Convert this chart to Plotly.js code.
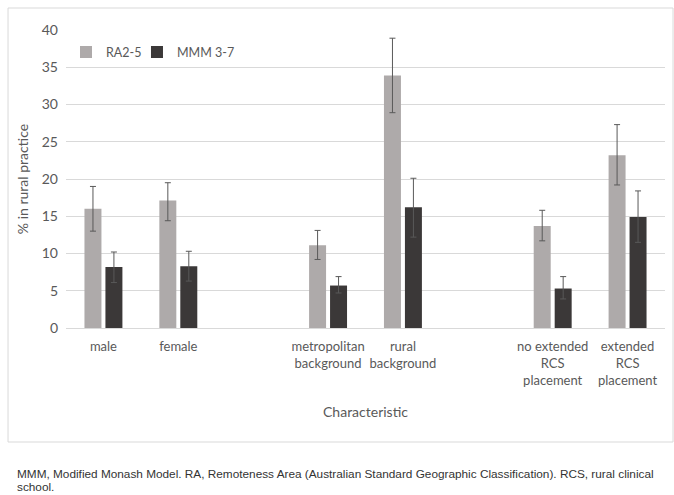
<!DOCTYPE html>
<html>
<head>
<meta charset="utf-8">
<script src="https://cdn.plot.ly/plotly-3.0.1.min.js"></script>
<style>html,body{margin:0;padding:0;background:#fff;}#chart{width:674px;height:495px;}</style>
</head>
<body>
<div id="chart"></div>
<script>
var categories = ["male", "female", " ", "metropolitan<br>background", "rural<br>background", "  ", "no extended<br>RCS<br>placement", "extended<br>RCS<br>placement"];
var raValues   = [16.0, 17.1, null, 11.1, 33.9, null, 13.7, 23.2];
var raUpper    = [19.0, 19.5, null, 13.1, 38.9, null, 15.8, 27.3];
var raLower    = [13.0, 14.4, null,  9.2, 28.9, null, 11.7, 19.2];
var mmmValues  = [8.2, 8.3, null, 5.7, 16.2, null, 5.3, 14.9];
var mmmUpper   = [10.2, 10.3, null, 6.9, 20.1, null, 6.9, 18.4];
var mmmLower   = [6.1, 6.3, null, 4.7, 12.2, null, 3.9, 11.5];
var yTicks = [0, 5, 10, 15, 20, 25, 30, 35, 40];

function plus(v, u) { return v.map(function (d, i) { return d === null ? null : u[i] - d; }); }
function minus(v, l) { return v.map(function (d, i) { return d === null ? null : d - l[i]; }); }

var errStyle = {color: "#595959", thickness: 1, width: 3};

var traces = [
  {
    type: "bar", name: "RA2-5", x: categories, y: raValues, legend: "legend",
    marker: {color: "#aeaaaa"},
    error_y: Object.assign({type: "data", symmetric: false, array: plus(raValues, raUpper), arrayminus: minus(raValues, raLower)}, errStyle)
  },
  {
    type: "bar", name: "MMM 3-7", x: categories, y: mmmValues, legend: "legend2",
    marker: {color: "#3b3838"},
    error_y: Object.assign({type: "data", symmetric: false, array: plus(mmmValues, mmmUpper), arrayminus: minus(mmmValues, mmmLower)}, errStyle)
  }
];

var font = "Lato, 'Open Sans', sans-serif";
var footFont = {family: "'Liberation Sans', Arial, sans-serif", size: 11.8, color: "#333333"};
var legendFont = {family: font, size: 12.5, color: "#595959"};
var layout = {
  width: 674, height: 495,
  margin: {l: 66, r: 9, t: 30, b: 167},
  paper_bgcolor: "#ffffff", plot_bgcolor: "#ffffff",
  barmode: "group", bargap: 0.44, bargroupgap: 0.19,
  font: {family: font, size: 13, color: "#595959"},
  showlegend: true,
  legend: {orientation: "h", x: 0.0, y: 0.975, xanchor: "left", yanchor: "top",
           font: legendFont, bgcolor: "rgba(0,0,0,0)"},
  legend2: {orientation: "h", x: 0.1185, y: 0.975, xanchor: "left", yanchor: "top",
           font: legendFont, bgcolor: "rgba(0,0,0,0)"},
  xaxis: {
    type: "category", categoryorder: "array", categoryarray: categories,
    showgrid: false, zeroline: false, showline: false, ticks: "",
    ticklabelstandoff: 9,
    tickfont: {family: font, size: 13, color: "#595959"},
    title: {text: "Characteristic", font: {family: font, size: 14, color: "#595959"}, standoff: 20}
  },
  yaxis: {
    range: [0, 40], tickvals: yTicks, showgrid: true, gridcolor: "#d9d9d9", gridwidth: 1,
    zeroline: true, zerolinecolor: "#d9d9d9", zerolinewidth: 1, showline: false, ticks: "",
    ticklabelstandoff: 7,
    tickfont: {family: font, size: 14, color: "#595959"},
    title: {text: "% in rural practice", font: {family: font, size: 14, color: "#595959"}, standoff: 9}
  },
  shapes: [{
    type: "rect", xref: "paper", yref: "paper",
    x0: -0.0968, x1: 1.0134, y0: -0.3826, y1: 1.0738,
    line: {color: "#d9d9d9", width: 1}, fillcolor: "rgba(0,0,0,0)", layer: "below"
  }],
  annotations: [{
    xref: "paper", yref: "paper", x: -0.084, y: (328 - 474) / 298, xanchor: "left", yanchor: "middle",
    align: "left", showarrow: false, borderpad: 0,
    text: "MMM, Modified Monash Model. RA, Remoteness Area (Australian Standard Geographic Classification). RCS, rural clinical",
    font: footFont
  }, {
    xref: "paper", yref: "paper", x: -0.084, y: (328 - 487.5) / 298, xanchor: "left", yanchor: "middle",
    align: "left", showarrow: false, borderpad: 0, text: "school.", font: footFont
  }]
};

Plotly.newPlot("chart", traces, layout, {displayModeBar: false, staticPlot: true});
</script>
</body>
</html>
